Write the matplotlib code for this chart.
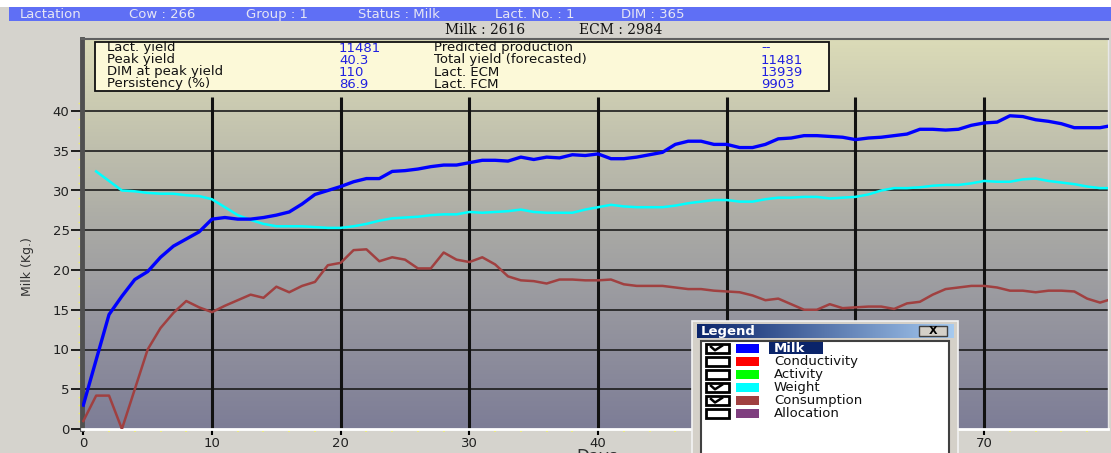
import numpy as np
import matplotlib
matplotlib.use("Agg")
import matplotlib.pyplot as plt
from matplotlib.patches import Rectangle
from matplotlib.lines import Line2D
from matplotlib.colors import LinearSegmentedColormap

# ---------------- data ----------------
days = list(range(0, 81))
milk = [3.0, 8.7, 14.4, 16.7, 18.8, 19.8, 21.6, 23.0, 23.9, 24.8,
        26.4, 26.6, 26.4, 26.4, 26.6, 26.9, 27.3, 28.3, 29.5, 30.0,
        30.5, 31.1, 31.5, 31.5, 32.4, 32.5, 32.7, 33.0, 33.2, 33.2,
        33.5, 33.8, 33.8, 33.7, 34.2, 33.9, 34.2, 34.1, 34.5, 34.4,
        34.6, 34.0, 34.0, 34.2, 34.5, 34.8, 35.8, 36.2, 36.2, 35.8,
        35.8, 35.4, 35.4, 35.8, 36.5, 36.6, 36.9, 36.9, 36.8, 36.7,
        36.4, 36.6, 36.7, 36.9, 37.1, 37.7, 37.7, 37.6, 37.7, 38.2,
        38.5, 38.6, 39.4, 39.3, 38.9, 38.7, 38.4, 37.9, 37.9, 37.9, 38.2]
weight_days = list(range(1, 81))
weight = [32.4, 31.2, 30.0, 29.9, 29.7, 29.6, 29.6, 29.4, 29.3, 28.9,
          27.9, 26.9, 26.3, 25.8, 25.5, 25.5, 25.5, 25.4, 25.3, 25.3,
          25.5, 25.8, 26.2, 26.5, 26.6, 26.7, 26.9, 27.0, 27.0, 27.3,
          27.2, 27.3, 27.4, 27.6, 27.3, 27.2, 27.2, 27.2, 27.6, 27.9,
          28.2, 28.0, 27.9, 27.9, 27.9, 28.1, 28.4, 28.6, 28.8, 28.8,
          28.6, 28.6, 28.9, 29.1, 29.1, 29.2, 29.2, 29.0, 29.1, 29.2,
          29.5, 30.0, 30.3, 30.3, 30.4, 30.6, 30.7, 30.7, 30.9, 31.2,
          31.1, 31.1, 31.4, 31.5, 31.2, 31.0, 30.8, 30.5, 30.3, 30.3]
consumption = [1.0, 4.2, 4.2, 0.0, 5.0, 10.0, 12.7, 14.6, 16.1, 15.3,
               14.7, 15.5, 16.2, 16.9, 16.5, 17.9, 17.2, 18.0, 18.5, 20.6,
               20.9, 22.5, 22.6, 21.1, 21.6, 21.3, 20.2, 20.2, 22.2, 21.3,
               21.0, 21.6, 20.7, 19.2, 18.7, 18.6, 18.3, 18.8, 18.8, 18.7,
               18.7, 18.8, 18.2, 18.0, 18.0, 18.0, 17.8, 17.6, 17.6, 17.4,
               17.3, 17.2, 16.8, 16.2, 16.4, 15.7, 15.0, 15.0, 15.7, 15.2,
               15.3, 15.4, 15.4, 15.1, 15.8, 16.0, 16.9, 17.6, 17.8, 18.0,
               18.0, 17.8, 17.4, 17.4, 17.2, 17.4, 17.4, 17.3, 16.4, 15.9, 16.4]

y_ticks = [0, 5, 10, 15, 20, 25, 30, 35, 40]
x_ticks = [0, 10, 20, 30, 40, 50, 60, 70]

header_items = ["Lactation", "Cow : 266", "Group : 1", "Status : Milk",
                "Lact. No. : 1", "DIM : 365"]
summary_items = ["Milk : 2616", "ECM : 2984"]
info_labels_left = ["Lact. yield", "Peak yield", "DIM at peak yield", "Persistency (%)"]
info_values_left = ["11481", "40.3", "110", "86.9"]
info_labels_right = ["Predicted production", "Total yield (forecasted)", "Lact. ECM", "Lact. FCM"]
info_values_right = ["--", "11481", "13939", "9903"]

legend_names = ["Milk", "Conductivity", "Activity", "Weight", "Consumption", "Allocation"]
legend_colors = ["#0000ff", "#ff0000", "#00ff00", "#00ffff", "#a04040", "#7f3f7f"]
legend_checked = [True, False, False, True, True, False]

# ---------------- figure ----------------
W, H = 1111, 453
fig = plt.figure(figsize=(W / 100, H / 100), dpi=100, facecolor="#d5d3cd")

# main plot area in pixel coordinates
L, R, T, B = 82, 1108, 39, 429
ax = fig.add_axes([L / W, (H - B) / H, (R - L) / W, (B - T) / H])
px_per_day = 12.87
px_per_unit = 7.95
x0 = -(83.3 - L) / px_per_day
x1 = x0 + (R - L) / px_per_day
ymax = (B - T) / px_per_unit
ax.set_xlim(x0, x1)
ax.set_ylim(0, ymax)

# gradient background
cmap = LinearSegmentedColormap.from_list(
    "bg", [(0.0, (0.49, 0.49, 0.59)), (0.5, (0.66, 0.66, 0.645)),
           (1.0, (0.86, 0.86, 0.72))])
grad = np.linspace(0, 1, 256).reshape(-1, 1)
ax.imshow(grad, extent=[x0, x1, 0, ymax], origin="lower", aspect="auto",
          cmap=cmap, zorder=0)

# grid
ax.hlines(y_ticks[1:], x0, x1, color="#1c1c1c", lw=1.2, zorder=1)
ax.vlines(x_ticks[1:], 0, (B - 97) / px_per_unit, color="#111111", lw=2.2, zorder=1)

# series
ax.plot(days, consumption, color="#a04040", lw=1.8, zorder=3)
ax.plot(weight_days, weight, color="#00ffff", lw=1.8, zorder=3)
ax.plot(days, milk, color="#0000ff", lw=2.4, zorder=4)

# spines
ax.spines["left"].set_color("#505050")
ax.spines["left"].set_linewidth(3.5)
ax.spines["bottom"].set_color("#ffffff")
ax.spines["bottom"].set_linewidth(2)
ax.spines["top"].set_color("#606060")
ax.spines["top"].set_linewidth(1.5)
ax.spines["right"].set_color("#e8e8e8")
ax.spines["right"].set_linewidth(1)

# ticks
ax.set_yticks(y_ticks)
ax.set_yticklabels([str(v) for v in y_ticks])
ax.set_yticks(range(0, 42), minor=True)
ax.set_xticks(x_ticks)
ax.set_xticklabels([str(v) for v in x_ticks])
ax.set_xticks(range(0, 80, 2), minor=True)
ax.tick_params(axis="y", which="major", direction="out", length=8, width=1.2,
               color="#000000", labelsize=9.5, pad=1, labelcolor="#202020")
ax.tick_params(axis="y", which="minor", direction="out", length=3, width=1,
               color="#eeee70")
ax.tick_params(axis="x", which="major", direction="out", length=4, width=1.5,
               color="#000000", labelsize=9.5, pad=1.5, labelcolor="#202020")
ax.tick_params(axis="x", which="minor", direction="out", length=2.5, width=1.2,
               color="#eeee70")

# ---------------- overlay (pixel coordinates) ----------------
ov = fig.add_axes([0, 0, 1, 1], zorder=5)
ov.set_xlim(0, W)
ov.set_ylim(H, 0)
ov.axis("off")
ov.patch.set_alpha(0)

# top header bar
ov.add_patch(Rectangle((0, 0), W, 7, facecolor="#ffffff", edgecolor="none"))
ov.add_patch(Rectangle((9, 7), W - 9, 14, facecolor="#5f6ff5", edgecolor="none"))
header_x = [20, 129, 246, 358, 495, 621]
for x, s in zip(header_x, header_items):
    ov.text(x, 14.5, s, color="#e6e6f4", fontsize=9.5, va="center", ha="left",
            family="DejaVu Sans")
ov.text(445, 30, summary_items[0], color="#111111", fontsize=10, va="center",
        ha="left", family="DejaVu Serif")
ov.text(579, 30, summary_items[1], color="#111111", fontsize=10, va="center",
        ha="left", family="DejaVu Serif")

# y label and x label
ov.text(28, 267, "Milk (Kg.)", rotation=90, color="#303030", fontsize=9,
        va="center", ha="center", family=["Liberation Sans Narrow", "DejaVu Sans"])
ov.text(597, 448, "Days", color="#303030", fontsize=12, va="top", ha="center",
        family="DejaVu Sans")

# info box
ov.add_patch(Rectangle((94.5, 42), 734, 49, facecolor="#fcf9d8",
                       edgecolor="#111111", lw=1.3))
rows_y = [48, 60, 72, 84]
for y, a, b, c, d in zip(rows_y, info_labels_left, info_values_left,
                         info_labels_right, info_values_right):
    ov.text(107, y, a, color="#111111", fontsize=9.5, va="center", ha="left")
    ov.text(339, y, b, color="#2020e0", fontsize=9.5, va="center", ha="left")
    ov.text(434, y, c, color="#111111", fontsize=9.5, va="center", ha="left")
    ov.text(761, y, d, color="#2020e0", fontsize=9.5, va="center", ha="left")

# legend window
ov.add_patch(Rectangle((692, 321), 266, 140, facecolor="#d4d0c8",
                       edgecolor="#f4f4f4", lw=1.2))
tb = np.linspace(0, 1, 256).reshape(1, -1)
tb_cmap = LinearSegmentedColormap.from_list("tb", ["#0a246a", "#a6caf0"])
ov.imshow(tb, extent=[697, 954, 338, 324], aspect="auto", cmap=tb_cmap, zorder=2)
ov.set_xlim(0, W)
ov.set_ylim(H, 0)
ov.text(701, 331, "Legend", color="#ffffff", fontsize=9.5, fontweight="bold",
        va="center", ha="left", zorder=3)
ov.add_patch(Rectangle((919, 326), 28, 10, facecolor="#d4d0c8",
                       edgecolor="#404040", lw=1, zorder=3))
ov.text(933, 331, "X", color="#000000", fontsize=8, fontweight="bold",
        va="center", ha="center", zorder=4)
ov.add_patch(Rectangle((701, 341), 248, 120, facecolor="#ffffff",
                       edgecolor="#404040", lw=1.5, zorder=2))
leg_rows = [348.3, 361.5, 374.5, 387.3, 400.5, 413.5]
for y, name, col, chk in zip(leg_rows, legend_names, legend_colors, legend_checked):
    ov.add_patch(Rectangle((706, y - 4.5), 23, 9, facecolor="#ffffff",
                           edgecolor="#000000", lw=2, zorder=3))
    if chk:
        ov.add_line(Line2D([711, 715, 722], [y - 1.5, y + 2, y - 2.5],
                           color="#000000", lw=1.8, zorder=4))
    ov.add_patch(Rectangle((736, y - 4.5), 23, 9, facecolor=col,
                           edgecolor="none", zorder=3))
    if name == "Milk":
        ov.add_patch(Rectangle((769, y - 6.5), 54, 12, facecolor="#0a246a",
                               edgecolor="none", zorder=3))
        ov.text(774, y, name, color="#ffffff", fontsize=9.5, fontweight="bold",
                va="center", ha="left", zorder=4)
    else:
        ov.text(774, y, name, color="#111111", fontsize=9.5, va="center",
                ha="left", zorder=4)

fig.savefig("out.png", dpi=100, facecolor=fig.get_facecolor())
